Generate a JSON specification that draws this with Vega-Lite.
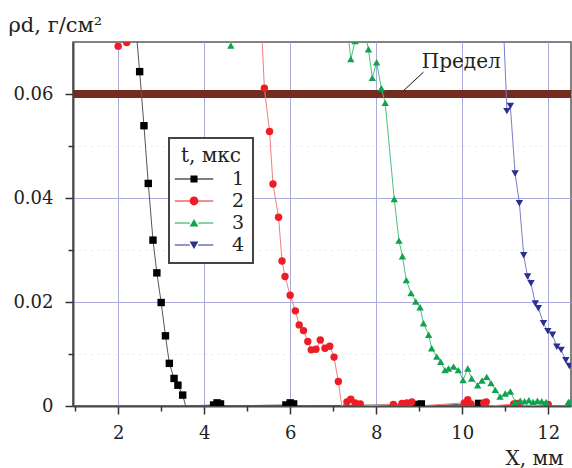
{
  "$schema": "https://vega.github.io/schema/vega-lite/v6.json",
  "width": 498,
  "height": 364,
  "autosize": {"type": "none"},
  "padding": {"left": 73, "top": 42, "right": 1, "bottom": 62},
  "background": "white",
  "config": {
    "view": {"stroke": "#5b5b5b", "strokeWidth": 1.5},
    "font": "DejaVu Serif",
    "axis": {
      "labelFont": "DejaVu Serif",
      "labelFontSize": 18,
      "labelColor": "#222",
      "titleFont": "DejaVu Serif",
      "titleFontSize": 20,
      "titleFontWeight": "normal",
      "titleColor": "#222",
      "domainColor": "#4a4a4a",
      "domainWidth": 2,
      "tickColor": "#333",
      "tickWidth": 1.5,
      "gridColor": "#a9a9dc",
      "gridWidth": 1,
      "gridOpacity": 1
    },
    "legend": {"strokeWidth": 2}
  },
  "datasets": {
    "series": [
      {"s": "1", "x": 2.4, "y": 0.074},
      {"s": "1", "x": 2.5, "y": 0.0643},
      {"s": "1", "x": 2.6, "y": 0.0539},
      {"s": "1", "x": 2.7, "y": 0.0428},
      {"s": "1", "x": 2.81, "y": 0.0319},
      {"s": "1", "x": 2.9, "y": 0.0256},
      {"s": "1", "x": 3.0, "y": 0.0199},
      {"s": "1", "x": 3.1, "y": 0.0135},
      {"s": "1", "x": 3.19, "y": 0.0082},
      {"s": "1", "x": 3.3, "y": 0.0053},
      {"s": "1", "x": 3.39, "y": 0.004},
      {"s": "1", "x": 3.5, "y": 0.0021},
      {"s": "1", "x": 3.57, "y": 0},
      {"s": "1", "x": 4.22, "y": 0.0002},
      {"s": "1", "x": 4.3, "y": 0.0006},
      {"s": "1", "x": 4.38, "y": 0.0004},
      {"s": "1", "x": 4.5, "y": 0},
      {"s": "1", "x": 5.9, "y": 0.0002},
      {"s": "1", "x": 6.0, "y": 0.0006},
      {"s": "1", "x": 6.08, "y": 0.0004},
      {"s": "1", "x": 6.2, "y": 0},
      {"s": "1", "x": 8.95, "y": 0.0003},
      {"s": "1", "x": 9.05, "y": 0.0004},
      {"s": "1", "x": 9.15, "y": 0},
      {"s": "1", "x": 10.38, "y": 0.0005},
      {"s": "1", "x": 10.5, "y": 0},
      {"s": "1", "x": 12.5, "y": 0},
      {"s": "2", "x": 1.9, "y": 0.073},
      {"s": "2", "x": 2.0, "y": 0.0692},
      {"s": "2", "x": 2.1, "y": 0.0712},
      {"s": "2", "x": 2.2, "y": 0.0699},
      {"s": "2", "x": 2.3, "y": 0.075},
      {"s": "2", "x": 5.3, "y": 0.079},
      {"s": "2", "x": 5.4, "y": 0.0611},
      {"s": "2", "x": 5.52, "y": 0.0528},
      {"s": "2", "x": 5.6, "y": 0.0427},
      {"s": "2", "x": 5.73, "y": 0.0363},
      {"s": "2", "x": 5.81, "y": 0.0279},
      {"s": "2", "x": 5.88, "y": 0.0249},
      {"s": "2", "x": 6.0, "y": 0.0213},
      {"s": "2", "x": 6.12, "y": 0.0183},
      {"s": "2", "x": 6.21, "y": 0.0156},
      {"s": "2", "x": 6.31, "y": 0.0145},
      {"s": "2", "x": 6.41, "y": 0.0124},
      {"s": "2", "x": 6.49, "y": 0.0108},
      {"s": "2", "x": 6.6, "y": 0.0109},
      {"s": "2", "x": 6.7, "y": 0.0127},
      {"s": "2", "x": 6.81, "y": 0.0111},
      {"s": "2", "x": 6.92, "y": 0.0115},
      {"s": "2", "x": 7.02, "y": 0.0094},
      {"s": "2", "x": 7.12, "y": 0.0047},
      {"s": "2", "x": 7.2, "y": 0},
      {"s": "2", "x": 7.32, "y": 0.0008},
      {"s": "2", "x": 7.41, "y": 0.0013},
      {"s": "2", "x": 7.51, "y": 0.0006},
      {"s": "2", "x": 7.63, "y": 0.0004},
      {"s": "2", "x": 7.7, "y": 0},
      {"s": "2", "x": 8.4, "y": 0.0003},
      {"s": "2", "x": 8.6, "y": 0.0005},
      {"s": "2", "x": 8.71, "y": 0.0006},
      {"s": "2", "x": 8.83, "y": 0.0008},
      {"s": "2", "x": 8.95, "y": 0},
      {"s": "2", "x": 10.05, "y": 0.0006},
      {"s": "2", "x": 10.13, "y": 0.0012},
      {"s": "2", "x": 10.2, "y": 0.0004},
      {"s": "2", "x": 10.5, "y": 0.0006},
      {"s": "2", "x": 10.56, "y": 0.0008},
      {"s": "2", "x": 10.65, "y": 0},
      {"s": "2", "x": 11.2, "y": 0.0004},
      {"s": "2", "x": 11.3, "y": 0.0005},
      {"s": "2", "x": 11.5, "y": 0},
      {"s": "2", "x": 12.0, "y": 0.0003},
      {"s": "2", "x": 12.1, "y": 0},
      {"s": "3", "x": 4.5, "y": 0.078},
      {"s": "3", "x": 4.62, "y": 0.0693},
      {"s": "3", "x": 4.75, "y": 0.078},
      {"s": "3", "x": 7.3, "y": 0.075},
      {"s": "3", "x": 7.41, "y": 0.0667},
      {"s": "3", "x": 7.51, "y": 0.0702},
      {"s": "3", "x": 7.65, "y": 0.075},
      {"s": "3", "x": 7.82, "y": 0.0686},
      {"s": "3", "x": 7.91, "y": 0.0631},
      {"s": "3", "x": 8.01, "y": 0.0661},
      {"s": "3", "x": 8.12, "y": 0.0611},
      {"s": "3", "x": 8.21, "y": 0.0583},
      {"s": "3", "x": 8.42, "y": 0.0398},
      {"s": "3", "x": 8.53, "y": 0.0318},
      {"s": "3", "x": 8.61, "y": 0.0288},
      {"s": "3", "x": 8.7, "y": 0.0242},
      {"s": "3", "x": 8.81, "y": 0.0217},
      {"s": "3", "x": 8.92, "y": 0.0201},
      {"s": "3", "x": 9.02, "y": 0.019},
      {"s": "3", "x": 9.1, "y": 0.0159},
      {"s": "3", "x": 9.22, "y": 0.0137},
      {"s": "3", "x": 9.29, "y": 0.0111},
      {"s": "3", "x": 9.41, "y": 0.0095},
      {"s": "3", "x": 9.5, "y": 0.0085},
      {"s": "3", "x": 9.6, "y": 0.0069},
      {"s": "3", "x": 9.68, "y": 0.0072},
      {"s": "3", "x": 9.8, "y": 0.0076},
      {"s": "3", "x": 9.91, "y": 0.0069},
      {"s": "3", "x": 10.02, "y": 0.005},
      {"s": "3", "x": 10.13, "y": 0.0072},
      {"s": "3", "x": 10.22, "y": 0.0053},
      {"s": "3", "x": 10.36, "y": 0.004},
      {"s": "3", "x": 10.46, "y": 0.0049},
      {"s": "3", "x": 10.57, "y": 0.0056},
      {"s": "3", "x": 10.67, "y": 0.0044},
      {"s": "3", "x": 10.77, "y": 0.0031},
      {"s": "3", "x": 10.88, "y": 0.0018},
      {"s": "3", "x": 11.0, "y": 0.0024},
      {"s": "3", "x": 11.12, "y": 0.0028},
      {"s": "3", "x": 11.23, "y": 0.0008},
      {"s": "3", "x": 11.35, "y": 0.001},
      {"s": "3", "x": 11.45, "y": 0.0009},
      {"s": "3", "x": 11.55, "y": 0.0011},
      {"s": "3", "x": 11.65, "y": 0.0008},
      {"s": "3", "x": 11.75, "y": 0.001},
      {"s": "3", "x": 11.85, "y": 0.0009},
      {"s": "3", "x": 11.95, "y": 0.0008},
      {"s": "3", "x": 12.05, "y": 0},
      {"s": "3", "x": 12.4, "y": 0},
      {"s": "3", "x": 12.47, "y": 0.0008},
      {"s": "3", "x": 12.53, "y": 0.001},
      {"s": "4", "x": 10.95, "y": 0.075},
      {"s": "4", "x": 11.04, "y": 0.0567},
      {"s": "4", "x": 11.12, "y": 0.0577},
      {"s": "4", "x": 11.23, "y": 0.0447},
      {"s": "4", "x": 11.33, "y": 0.039},
      {"s": "4", "x": 11.43, "y": 0.029},
      {"s": "4", "x": 11.52, "y": 0.0249},
      {"s": "4", "x": 11.6, "y": 0.0236},
      {"s": "4", "x": 11.7, "y": 0.0197},
      {"s": "4", "x": 11.77, "y": 0.0188},
      {"s": "4", "x": 11.89, "y": 0.0159},
      {"s": "4", "x": 11.99, "y": 0.0144},
      {"s": "4", "x": 12.1, "y": 0.0137},
      {"s": "4", "x": 12.2, "y": 0.0114},
      {"s": "4", "x": 12.3, "y": 0.0108},
      {"s": "4", "x": 12.41, "y": 0.0088},
      {"s": "4", "x": 12.49, "y": 0.0077}
    ],
    "band": [
      {"x": 0.95, "y": 0.06},
      {"x": 12.53, "y": 0.06}
    ],
    "note": [
      {"label": "Предел", "x": 9.06, "y": 0.0662, "x1": 9.1, "y1": 0.0642, "x2": 8.63, "y2": 0.0606}
    ],
    "leg": [
      {"s": "1", "x": 2, "y": 0.03},
      {"s": "2", "x": 2, "y": 0.03},
      {"s": "3", "x": 2, "y": 0.03},
      {"s": "4", "x": 2, "y": 0.03}
    ]
  },
  "resolve": {
    "scale": {"color": "independent", "shape": "independent"},
    "axis": {"x": "independent", "y": "independent"}
  },
  "layer": [
    {
      "data": {"name": "band"},
      "mark": {"type": "line", "color": "#722c20", "strokeWidth": 8, "clip": true},
      "encoding": {
        "x": {
          "field": "x", "type": "quantitative",
          "scale": {"domain": [0.95, 12.53], "nice": false, "zero": false},
          "axis": {
            "orient": "bottom",
            "values": [2, 4, 6, 8, 10, 12],
            "grid": true,
            "tickSize": 8,
            "labelPadding": 10,
            "title": "X, мм",
            "titleAlign": "right",
            "titleAnchor": "end",
            "titleBaseline": "alphabetic",
            "titleX": 490,
            "titleY": 58
          }
        },
        "y": {
          "field": "y", "type": "quantitative",
          "scale": {"domain": [0, 0.07], "nice": false, "zero": false},
          "axis": {
            "orient": "left",
            "values": [0, 0.02, 0.04, 0.06],
            "labelExpr": "datum.value == 0 ? '0' : format(datum.value, '.2f')",
            "grid": true,
            "tickSize": 8,
            "labelPadding": 12,
            "title": "ρd, г/см²",
            "titleFontSize": 21,
            "titleAngle": 0,
            "titleAlign": "left",
            "titleBaseline": "alphabetic",
            "titleX": -65,
            "titleY": -11
          }
        }
      }
    },
    {
      "data": {"name": "band"},
      "mark": {"type": "line", "opacity": 0},
      "encoding": {
        "x": {
          "field": "x", "type": "quantitative",
          "scale": {"domain": [0.95, 12.53], "nice": false, "zero": false},
          "axis": {
            "orient": "bottom",
            "values": [1, 3, 5, 7, 9, 11],
            "labels": false, "domain": false, "grid": false,
            "tickSize": 5, "title": null
          }
        },
        "y": {
          "field": "y", "type": "quantitative",
          "scale": {"domain": [0, 0.07], "nice": false, "zero": false},
          "axis": {
            "orient": "left",
            "values": [0.01, 0.03, 0.05],
            "labels": false, "domain": false,
            "grid": true, "gridColor": "#c8dcd2", "gridDash": [1, 5],
            "tickSize": 5, "title": null
          }
        }
      }
    },
    {
      "data": {"name": "series"},
      "mark": {"type": "line", "strokeWidth": 1, "clip": true},
      "encoding": {
        "x": {"field": "x", "type": "quantitative", "scale": {"domain": [0.95, 12.53], "nice": false, "zero": false}, "axis": null},
        "y": {"field": "y", "type": "quantitative", "scale": {"domain": [0, 0.07], "nice": false, "zero": false}, "axis": null},
        "color": {
          "field": "s", "type": "nominal",
          "scale": {"domain": ["1", "2", "3", "4"], "range": ["#555555", "#f27d7d", "#4cc080", "#7b7dc4"]},
          "legend": null
        },
        "order": {"field": "x", "type": "quantitative"}
      }
    },
    {
      "data": {"name": "series"},
      "transform": [{"filter": "datum.y > 0"}],
      "mark": {"type": "point", "filled": true, "opacity": 1, "clip": true},
      "encoding": {
        "x": {"field": "x", "type": "quantitative", "scale": {"domain": [0.95, 12.53], "nice": false, "zero": false}, "axis": null},
        "y": {"field": "y", "type": "quantitative", "scale": {"domain": [0, 0.07], "nice": false, "zero": false}, "axis": null},
        "color": {
          "field": "s", "type": "nominal",
          "scale": {"domain": ["1", "2", "3", "4"], "range": ["#000000", "#ee1c24", "#0fa34f", "#2b2f8f"]},
          "legend": null
        },
        "shape": {
          "field": "s", "type": "nominal",
          "scale": {"domain": ["1", "2", "3", "4"], "range": ["square", "circle", "triangle-up", "triangle-down"]},
          "legend": null
        },
        "size": {"value": 55}
      }
    },
    {
      "data": {"name": "leg"},
      "mark": {"type": "point", "filled": true, "opacity": 0},
      "encoding": {
        "x": {"field": "x", "type": "quantitative", "scale": {"domain": [0.95, 12.53], "nice": false, "zero": false}, "axis": null},
        "y": {"field": "y", "type": "quantitative", "scale": {"domain": [0, 0.07], "nice": false, "zero": false}, "axis": null},
        "color": {
          "field": "s", "type": "nominal",
          "scale": {"domain": ["1", "2", "3", "4"], "range": ["#000000", "#ee1c24", "#0fa34f", "#2b2f8f"]},
          "legend": {
            "orient": "none", "legendX": 96, "legendY": 96,
            "title": "t, мкс", "titleFont": "DejaVu Serif", "titleFontSize": 20, "titleFontWeight": "normal", "titleColor": "#222",
            "titleAnchor": "middle", "titlePadding": 2,
            "labelFont": "DejaVu Serif", "labelFontSize": 19, "labelColor": "#222",
            "symbolSize": 484, "symbolOpacity": 1, "symbolStrokeWidth": 0,
            "symbolOffset": 6, "labelOffset": 27,
            "padding": 8, "rowPadding": 1,
            "strokeColor": "#444", "fillColor": "white"
          }
        },
        "shape": {
          "field": "s", "type": "nominal",
          "scale": {"domain": ["1", "2", "3", "4"], "range": [
            "M-1.75,-0.05H-0.32V0.05H-1.75Z M0.32,-0.05H1.75V0.05H0.32Z M-0.32,-0.32H0.32V0.32H-0.32Z",
            "M-1.75,-0.05H-0.4V0.05H-1.75Z M0.4,-0.05H1.75V0.05H0.4Z M-0.4,0A0.4,0.4 0 1,0 0.4,0A0.4,0.4 0 1,0 -0.4,0Z",
            "M-1.75,-0.05H-0.38V0.05H-1.75Z M0.38,-0.05H1.75V0.05H0.38Z M0,-0.36L0.4,0.32H-0.4Z",
            "M-1.75,-0.05H-0.38V0.05H-1.75Z M0.38,-0.05H1.75V0.05H0.38Z M0,0.36L0.4,-0.32H-0.4Z"
          ]},
          "legend": {
            "orient": "none", "legendX": 96, "legendY": 96,
            "title": "t, мкс", "titleFont": "DejaVu Serif", "titleFontSize": 20, "titleFontWeight": "normal", "titleColor": "#222",
            "titleAnchor": "middle", "titlePadding": 2,
            "labelFont": "DejaVu Serif", "labelFontSize": 19, "labelColor": "#222",
            "symbolSize": 484, "symbolOpacity": 1, "symbolStrokeWidth": 0,
            "symbolOffset": 6, "labelOffset": 27,
            "padding": 8, "rowPadding": 1,
            "strokeColor": "#444", "fillColor": "white"
          }
        }
      }
    },
    {
      "data": {"name": "note"},
      "mark": {"type": "rule", "color": "#111", "strokeWidth": 1},
      "encoding": {
        "x": {"field": "x1", "type": "quantitative", "scale": {"domain": [0.95, 12.53], "nice": false, "zero": false}, "axis": null},
        "y": {"field": "y1", "type": "quantitative", "scale": {"domain": [0, 0.07], "nice": false, "zero": false}, "axis": null},
        "x2": {"field": "x2"},
        "y2": {"field": "y2"}
      }
    },
    {
      "data": {"name": "note"},
      "mark": {"type": "text", "align": "left", "baseline": "middle", "font": "DejaVu Serif", "fontSize": 20, "color": "#222"},
      "encoding": {
        "x": {"field": "x", "type": "quantitative", "scale": {"domain": [0.95, 12.53], "nice": false, "zero": false}, "axis": null},
        "y": {"field": "y", "type": "quantitative", "scale": {"domain": [0, 0.07], "nice": false, "zero": false}, "axis": null},
        "text": {"field": "label"}
      }
    }
  ]
}
